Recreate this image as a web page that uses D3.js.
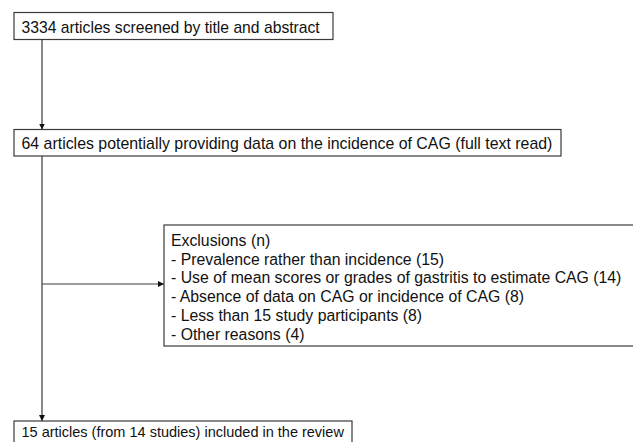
<!DOCTYPE html>
<html>
<head>
<meta charset="utf-8">
<script src="https://cdn.jsdelivr.net/npm/d3@7"></script>
<style>
  body { margin: 0; background: white; }
  text { font-family: "Liberation Sans", Arial, Helvetica, sans-serif; fill: #111; }
</style>
</head>
<body>
<script>
// flow steps (top to bottom)
var stepLabels = [
  "3334 articles screened by title and abstract",
  "64 articles potentially providing data on the incidence of CAG (full text read)",
  "15 articles (from 14 studies) included in the review"
];
var exclusionTitle = "Exclusions (n)";
var exclusionReasons = [
  "Prevalence rather than incidence",
  "Use of mean scores or grades of gastritis to estimate CAG",
  "Absence of data on CAG or incidence of CAG",
  "Less than 15 study participants",
  "Other reasons"
];
var exclusionCounts = [15, 14, 8, 8, 4];

var width = 633, height = 442;
var lineColor = "#3a3a3a";
var fontSize = 15.8;

var svg = d3.select("body")
  .append("svg")
  .attr("width", width)
  .attr("height", height)

svg.append("defs").append("marker")
  .attr("id", "arrow")
  .attr("viewBox", "0 0 10 10")
  .attr("refX", 10)
  .attr("refY", 5)
  .attr("markerWidth", 6)
  .attr("markerHeight", 6)
  .attr("markerUnits", "userSpaceOnUse")
  .attr("orient", "auto")
  .append("path")
  .attr("d", "M0,0 L10,5 L0,10 Z")
  .attr("fill", "#111")

// box geometry for the three main steps
var stepBoxes = [
  {x: 14, y: 12.5, w: 319, h: 27, base: 20.5, fs: 15.7},
  {x: 14, y: 129.5, w: 547, h: 26.5, base: 19.8, fs: 15.9},
  {x: 14, y: 421, w: 338, h: 27, base: 15.5, fs: 14.5}
];
var spineX = 42;

var g = svg.append("g")

g.selectAll("rect.step")
  .data(stepBoxes)
  .enter()
  .append("rect")
  .attr("class", "step")
  .attr("x", d => d.x)
  .attr("y", d => d.y)
  .attr("width", d => d.w)
  .attr("height", d => d.h)
  .attr("fill", "white")
  .attr("stroke", lineColor)
  .attr("stroke-width", 1.2)

g.selectAll("text.step")
  .data(stepLabels)
  .enter()
  .append("text")
  .attr("class", "step")
  .attr("x", (d, i) => stepBoxes[i].x + 7.5)
  .attr("y", (d, i) => stepBoxes[i].y + stepBoxes[i].base)
  .style("font-size", (d, i) => stepBoxes[i].fs + "px")
  .text(d => d)

// vertical connectors
g.append("line")
  .attr("x1", spineX).attr("y1", stepBoxes[0].y + stepBoxes[0].h)
  .attr("x2", spineX).attr("y2", stepBoxes[1].y)
  .attr("stroke", lineColor)
  .attr("stroke-width", 1.2)
  .attr("marker-end", "url(#arrow)")

g.append("line")
  .attr("x1", spineX).attr("y1", stepBoxes[1].y + stepBoxes[1].h)
  .attr("x2", spineX).attr("y2", stepBoxes[2].y)
  .attr("stroke", lineColor)
  .attr("stroke-width", 1.2)
  .attr("marker-end", "url(#arrow)")

// exclusions box
var exBox = {x: 164, y: 225, w: 480, h: 121};
g.append("rect")
  .attr("x", exBox.x)
  .attr("y", exBox.y)
  .attr("width", exBox.w)
  .attr("height", exBox.h)
  .attr("fill", "white")
  .attr("stroke", lineColor)
  .attr("stroke-width", 1.2)

g.append("line")
  .attr("x1", spineX).attr("y1", 284)
  .attr("x2", exBox.x).attr("y2", 284)
  .attr("stroke", lineColor)
  .attr("stroke-width", 1.2)
  .attr("marker-end", "url(#arrow)")

var exLines = [exclusionTitle].concat(
  exclusionReasons.map((r, i) => "- " + r + " (" + exclusionCounts[i] + ")"))

var rowY = d3.scaleLinear()
  .domain([0, exLines.length - 1])
  .range([exBox.y + 21, exBox.y + 114.5])

g.selectAll("text.ex")
  .data(exLines)
  .enter()
  .append("text")
  .attr("class", "ex")
  .attr("x", exBox.x + 7)
  .attr("y", (d, i) => rowY(i))
  .style("font-size", fontSize + "px")
  .text(d => d)
</script>
</body>
</html>
